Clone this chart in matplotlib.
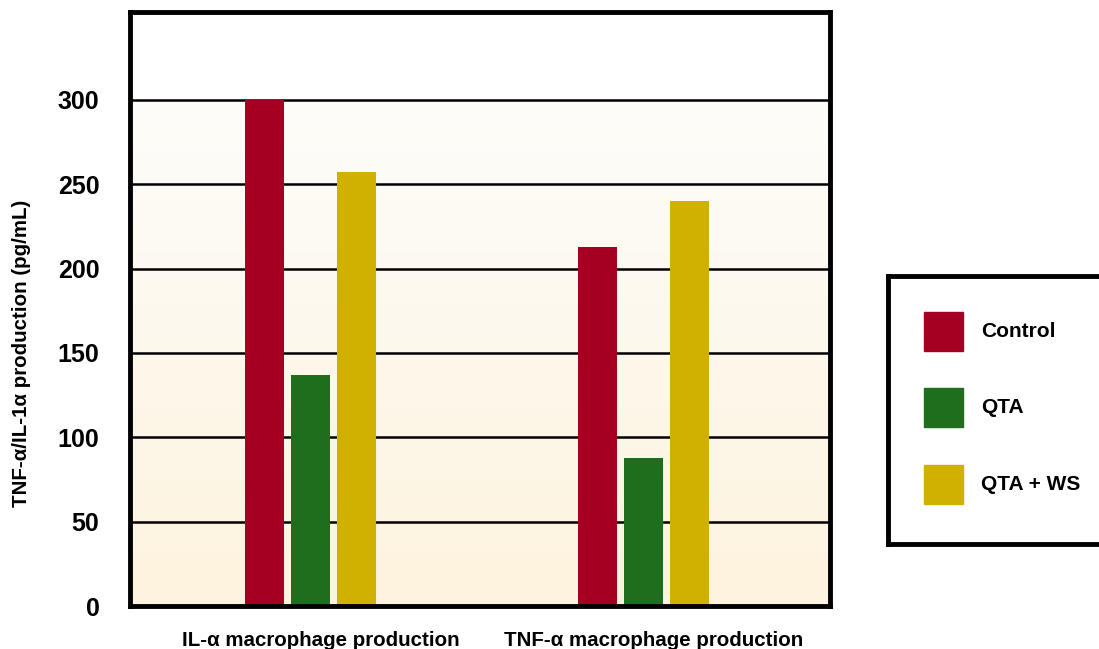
import matplotlib
matplotlib.use('Agg')
import matplotlib.pyplot as plt
import matplotlib.transforms as mtransforms
import numpy as np
from matplotlib import rcParams
from matplotlib.patches import Rectangle

rcParams['font.family'] = ['Liberation Sans', 'DejaVu Sans']
rcParams['font.weight'] = 'bold'

groups = ['IL-\u03b1 macrophage production', 'TNF-\u03b1 macrophage production']
series = ['Control', 'QTA', 'QTA + WS']
control = [300, 213]
qta = [137, 88]
qta_ws = [257, 240]
yticks = [0, 50, 100, 150, 200, 250, 300]

colors = ['#a50021', '#1e6e1e', '#d0b000']

fig = plt.figure(figsize=(10.99, 6.49), dpi=100)
ax = fig.add_axes([130/1099, 1-606/649, 700/1099, 594/649])

x = np.arange(len(groups))
width = 0.117
step = 0.137
for i, (vals, c, name) in enumerate(zip([control, qta, qta_ws], colors, series)):
    ax.bar(x + (i-1)*step, vals, width=width, color=c, label=name, zorder=3)

ax.set_xlim(-0.542, 1.560)

# cream gradient below the top gridline, white above
grad = np.linspace(0, 1, 256).reshape(-1, 1)
top = np.array([254, 253, 250]) / 255
bot = np.array([253, 243, 222]) / 255
img = top + (bot - top) * grad[:, :, None] * np.ones((1, 1, 3))
ax.imshow(img, extent=[-0.542, 1.560, 0, 300], aspect='auto', origin='upper', zorder=0)
ax.set_ylim(0, 352)

for y in yticks[1:]:
    ax.axhline(y, color='black', linewidth=1.8, zorder=2)

ax.set_yticks(yticks)
ax.set_yticklabels([str(v) for v in yticks], fontsize=18, fontweight='bold')
ax.set_xticks(x)
ax.set_xticklabels(groups, fontsize=14.8, fontweight='bold')
ax.tick_params(length=0)
ax.tick_params(axis='y', pad=22)
ax.tick_params(axis='x', pad=18)
# group labels sit a little right of the bar centres
shift = mtransforms.ScaledTranslation(10/100, 0, fig.dpi_scale_trans)
for lbl in ax.get_xticklabels():
    lbl.set_transform(lbl.get_transform() + shift)
for s in ax.spines.values():
    s.set_linewidth(3.5)
    s.set_zorder(5)
ax.set_ylabel('TNF-\u03b1/IL-1\u03b1 production (pg/mL)', fontsize=14.8, fontweight='bold')
ax.yaxis.set_label_coords(-0.141, 0.426)

# legend box on the right
lax = fig.add_axes([888/1099, 1-544/649, 215/1099, 268/649])
lax.set_xlim(888, 1103)
lax.set_ylim(544, 276)
lax.set_xticks([])
lax.set_yticks([])
for s in lax.spines.values():
    s.set_linewidth(3.5)
for name, c, ytop in zip(series, colors, [312, 388, 465]):
    lax.add_patch(Rectangle((924, ytop), 39, 39, color=c))
    lax.text(981, ytop + 19.5, name, fontsize=15, fontweight='bold', va='center', ha='left')

fig.savefig('out.png', dpi=100)
